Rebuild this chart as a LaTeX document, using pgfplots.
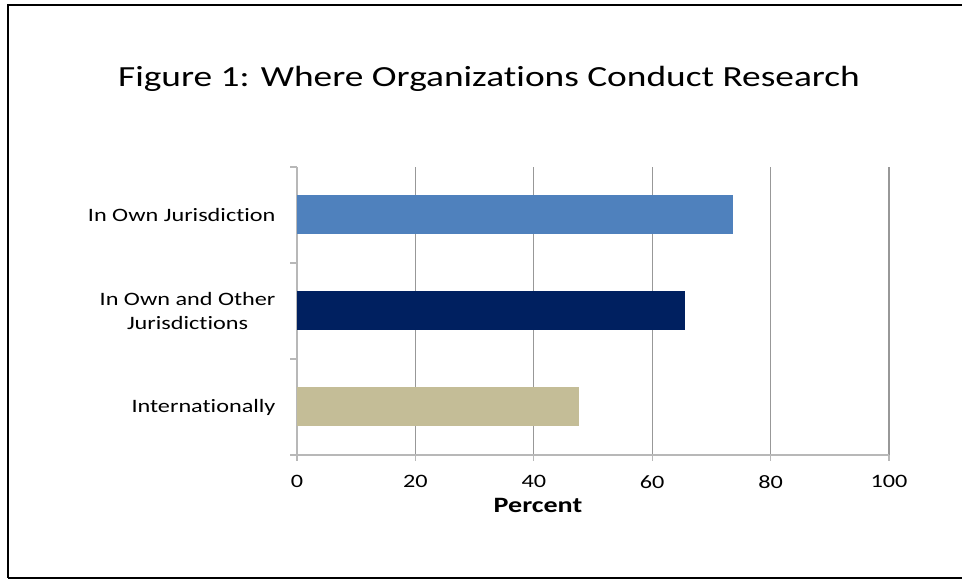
\documentclass[border=0pt]{standalone}
\usepackage{fontspec}
\setmainfont{Carlito}[FakeStretch=1.28, Ligatures=NoCommon]
\usepackage{pgfplots}
\pgfplotsset{compat=1.18}
\definecolor{c1}{HTML}{4F81BD}
\definecolor{c2}{HTML}{002060}
\definecolor{c3}{HTML}{C4BD97}
\definecolor{gridc}{HTML}{989898}
\definecolor{axc}{HTML}{B8B8B8}
\begin{document}
\begin{tikzpicture}[x=1bp,y=1bp]
\path[use as bounding box, fill=white] (0,0) rectangle (962,583);
\draw[line width=1.5bp] (8,5) -- (8,578) -- (970,578);
\draw[line width=1.5bp] (8,5) -- (970,5);
\node[font=\fontsize{29.3}{34}\selectfont, inner sep=0pt, anchor=base] at (489,496) {Figure 1: Where Organizations Conduct Research};
\begin{axis}[
  at={(297bp,128bp)}, anchor=south west,
  scale only axis, width=592bp, height=288bp,
  xmin=0, xmax=100, ymin=-0.5, ymax=2.5,
  xtick={0,20,...,100},
  ytick={0,1,2},
  yticklabels={Internationally, {In Own and Other\\Jurisdictions}, In Own Jurisdiction},
  yticklabel style={align=center, font=\fontsize{19}{24}\selectfont, xshift=-12bp},
  xticklabel style={font=\fontsize{19}{22}\selectfont, yshift=-11bp},
  /pgf/number format/assume math mode=true,
  minor ytick={-0.5,0.5,1.5,2.5},
  axis lines=left,
  axis line style={-, draw=axc, line width=1.2bp},
  tick align=outside,
  major tick length=6bp,
  minor tick length=7bp,
  major y tick style={draw=none},
  minor y tick style={draw=axc, line width=1.2bp},
  major x tick style={draw=axc, line width=1.2bp},
  xmajorgrids,
  grid style={draw=gridc, line width=1.2bp},
  xlabel={\textbf{Percent}},
  xlabel style={font=\fontsize{22}{24}\selectfont, yshift=-3bp, xshift=-55bp},
]
\addplot[xbar, bar shift=0pt, bar width=39bp, fill=c1, draw=none] coordinates {(73.6,2)};
\addplot[xbar, bar shift=0pt, bar width=39bp, fill=c2, draw=none] coordinates {(65.5,1)};
\addplot[xbar, bar shift=0pt, bar width=39bp, fill=c3, draw=none] coordinates {(47.6,0)};
\end{axis}
\end{tikzpicture}
\end{document}
